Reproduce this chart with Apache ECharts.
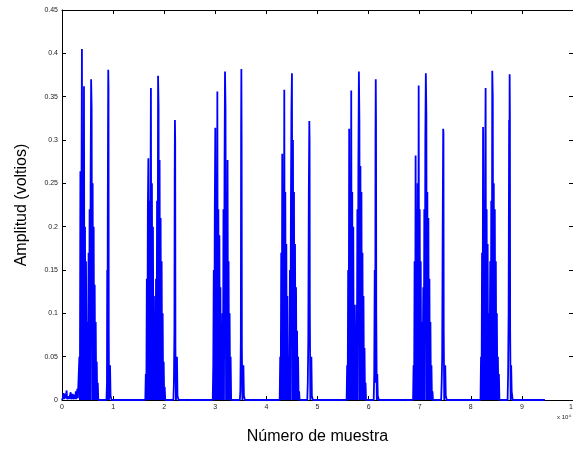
<!DOCTYPE html>
<html>
<head>
<meta charset="utf-8">
<script src="https://cdn.jsdelivr.net/npm/echarts@6/dist/echarts.min.js"></script>
<style>
  html, body { margin: 0; padding: 0; background: #fff; }
  #chart { width: 573px; height: 450px; }
</style>
</head>
<body>
<div id="chart"></div>
<script>
// x in units of 1e4 samples, y in volts
var step = 0.01;

// low noise at the start of the record
var noiseStart = [[0, 0], [0.02, 0.003], [0.03, 0.008], [0.04, 0.001], [0.06, 0.007], [0.07, 0.002],
  [0.09, 0.011], [0.10, 0.001], [0.13, 0.004], [0.14, 0.001], [0.17, 0.009], [0.18, 0.001],
  [0.21, 0.007], [0.22, 0.001], [0.25, 0.006], [0.26, 0.001], [0.27, 0.01], [0.28, 0.001],
  [0.30, 0.013], [0.31, 0.002], [0.32, 0]];

// bursts: start position + one value every `step`
var burst1Start = 0.33;
var burst1 = [0, 0.05, 0, 0.264, 0, 0.22, 0.405, 0, 0.25, 0, 0.362, 0, 0.2, 0, 0.16,
  0, 0.09, 0, 0.05, 0.17, 0, 0.22, 0, 0.26, 0.37, 0.337, 0, 0.25, 0, 0.2, 0,
  0.133, 0, 0.09, 0, 0.044, 0, 0.02, 0];
var spike1 = [[0.87, 0], [0.88, 0.02], [0.885, 0.15], [0.89, 0], [0.895, 0.2], [0.90, 0.3],
  [0.905, 0.381], [0.91, 0.36], [0.915, 0.08], [0.92, 0], [0.93, 0.02], [0.94, 0.04], [0.95, 0.005], [0.97, 0]];

var burst2Start = 1.63;
var burst2 = [0, 0.03, 0, 0.14, 0, 0.22, 0.279, 0, 0.23, 0, 0.2, 0.36, 0, 0.25, 0,
  0.2, 0, 0.12, 0, 0.05, 0, 0.14, 0, 0.23, 0, 0.374, 0.338, 0, 0.277, 0, 0.21,
  0, 0.16, 0, 0.1, 0, 0.044, 0, 0.015, 0];
var spike2 = [[2.18, 0], [2.19, 0.02], [2.20, 0.08], [2.205, 0.25], [2.21, 0.323], [2.215, 0.3],
  [2.22, 0.06], [2.23, 0], [2.24, 0.01], [2.25, 0.05], [2.26, 0.005], [2.28, 0]];

var burst3Start = 2.95;
var burst3 = [0, 0.04, 0.15, 0, 0.22, 0.314, 0, 0.24, 0, 0.356, 0, 0.22, 0, 0.19, 0,
  0.13, 0, 0.06, 0, 0.1, 0, 0.22, 0, 0.26, 0.379, 0.337, 0, 0.24, 0, 0.277, 0,
  0.16, 0, 0.1, 0, 0.05, 0];
var spike3 = [[3.48, 0], [3.49, 0.01], [3.50, 0.07], [3.505, 0.31], [3.51, 0.382], [3.515, 0.3], [3.52, 0.06],
  [3.53, 0], [3.54, 0.01], [3.55, 0.04], [3.56, 0.005], [3.58, 0]];

var burst4Start = 4.26;
var burst4 = [0, 0.05, 0, 0.17, 0, 0.284, 0, 0.22, 0, 0.358, 0, 0.24, 0, 0.18, 0,
  0.12, 0, 0.05, 0, 0.03, 0.15, 0, 0.23, 0.335, 0.377, 0, 0.3, 0, 0.24, 0, 0.18,
  0, 0.13, 0, 0.08, 0, 0.05, 0, 0.01, 0];
var spike4 = [[4.80, 0], [4.81, 0.02], [4.82, 0.07], [4.83, 0.24], [4.84, 0.322], [4.845, 0.3],
  [4.85, 0.1], [4.86, 0], [4.87, 0.01], [4.88, 0.05], [4.89, 0.005], [4.91, 0]];

var burst5Start = 5.57;
var burst5 = [0, 0.04, 0, 0.15, 0, 0.313, 0, 0.23, 0, 0.357, 0, 0.24, 0, 0.2,
  0, 0.11, 0, 0.05, 0, 0.11, 0, 0.22, 0, 0.27, 0.379, 0.323, 0, 0.27, 0, 0.24, 0,
  0.17, 0, 0.12, 0, 0.06, 0, 0.02, 0];
var spike5 = [[6.10, 0], [6.11, 0.03], [6.12, 0.15], [6.13, 0.02], [6.135, 0.3], [6.14, 0.37],
  [6.145, 0.321], [6.15, 0.1], [6.16, 0], [6.17, 0.03], [6.18, 0.005], [6.20, 0]];

var burst6Start = 6.87;
var burst6 = [0, 0.04, 0, 0.16, 0, 0.282, 0, 0.22, 0, 0.25, 0, 0.363, 0, 0.22, 0,
  0.16, 0, 0.09, 0, 0.05, 0.13, 0, 0.22, 0, 0.3, 0.377, 0.33, 0, 0.24, 0, 0.21, 0,
  0.14, 0, 0.09, 0, 0.04, 0, 0.01, 0];
var spike6 = [[7.42, 0], [7.43, 0.02], [7.44, 0.05], [7.45, 0.2], [7.46, 0.313], [7.465, 0.308],
  [7.47, 0.08], [7.48, 0], [7.49, 0.01], [7.50, 0.04], [7.51, 0.005], [7.53, 0]];

var burst7Start = 8.19;
var burst7 = [0, 0.05, 0, 0.17, 0, 0.315, 0, 0.23, 0, 0.26, 0.36, 0, 0.22, 0, 0.18,
  0, 0.1, 0, 0.06, 0.16, 0, 0.23, 0, 0.38, 0.35, 0, 0.25, 0, 0.22, 0, 0.16, 0,
  0.1, 0, 0.05, 0, 0.03, 0];
var spike7 = [[8.72, 0], [8.73, 0.03], [8.74, 0.1], [8.75, 0.323], [8.755, 0.2], [8.76, 0.376],
  [8.765, 0.33], [8.77, 0.08], [8.78, 0], [8.79, 0.04], [8.80, 0.01], [8.82, 0]];

var recordEnd = [[9.45, 0]];

function burstPoints(start, vals) {
  var pts = [];
  for (var i = 0; i < vals.length; i++) {
    pts.push([+(start + i * step).toFixed(3), vals[i]]);
  }
  return pts;
}

var signal = [].concat(
  noiseStart,
  burstPoints(burst1Start, burst1), spike1,
  burstPoints(burst2Start, burst2), spike2,
  burstPoints(burst3Start, burst3), spike3,
  burstPoints(burst4Start, burst4), spike4,
  burstPoints(burst5Start, burst5), spike5,
  burstPoints(burst6Start, burst6), spike6,
  burstPoints(burst7Start, burst7), spike7,
  recordEnd
);

var font = 'Liberation Sans, Arial, Helvetica, sans-serif';
var axisBase = {
  axisLine: { show: true, onZero: false, lineStyle: { color: '#000', width: 1 } },
  axisTick: { show: true, inside: true, length: 4, lineStyle: { color: '#000' } },
  splitLine: { show: false }
};

var chart = echarts.init(document.getElementById('chart'), null, { renderer: 'canvas' });
chart.setOption({
  animation: false,
  backgroundColor: '#fff',
  grid: { left: 62, right: 0, top: 10, bottom: 50, containLabel: false, outerBoundsMode: 'none' },
  xAxis: [
    Object.assign({}, axisBase, {
      type: 'value', min: 0, max: 10, interval: 1, position: 'bottom',
      axisLabel: { fontSize: 7, color: '#222', fontFamily: font, margin: 4, showMaxLabel: true },
      name: 'Número de muestra', nameLocation: 'middle', nameGap: 29,
      nameTextStyle: { fontSize: 16, color: '#000', fontFamily: font }
    }),
    Object.assign({}, axisBase, {
      type: 'value', min: 0, max: 10, interval: 1, position: 'top',
      axisLabel: { show: false }
    })
  ],
  yAxis: [
    Object.assign({}, axisBase, {
      type: 'value', min: 0, max: 0.45, interval: 0.05, position: 'left',
      axisLabel: { fontSize: 7, color: '#222', fontFamily: font, margin: 4 },
      name: 'Amplitud (voltios)', nameLocation: 'middle', nameGap: 32,
      nameTextStyle: { fontSize: 16, color: '#000', fontFamily: font }
    }),
    Object.assign({}, axisBase, {
      type: 'value', min: 0, max: 0.45, interval: 0.05, position: 'right',
      axisLabel: { show: false }
    })
  ],
  graphic: [{
    type: 'text', right: 2, top: 414,
    style: { text: 'x 10⁴', fontSize: 6, fill: '#222', fontFamily: font }
  }],
  series: [{
    type: 'line',
    data: signal,
    showSymbol: false,
    sampling: null,
    lineStyle: { color: '#0000ff', width: 1.8 },
    itemStyle: { color: '#0000ff' }
  }]
});
</script>
</body>
</html>
